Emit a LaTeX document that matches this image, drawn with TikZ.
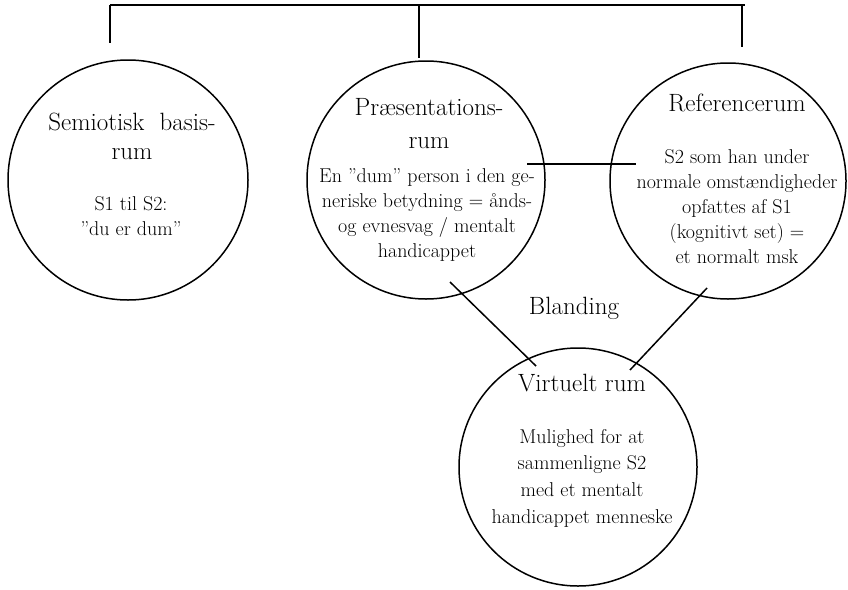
\documentclass[tikz,border=0pt]{standalone}
\usepackage{tikz}
\usetikzlibrary{positioning}

\begin{document}
\begin{tikzpicture}[x=1pt, y=-1pt,
		space/.style={circle, draw, line width=1.5pt, minimum size=238pt, inner sep=0pt},
		head/.style={align=center, font=\fontsize{25}{29}\selectfont},
		body/.style={align=center, font=\fontsize{20}{25}\selectfont},
		link/.style={line width=1.5pt}]
		\useasboundingbox (0,0) rectangle (848,589);
		% the four spaces
		\node[space, minimum size=240pt] (basis) at (128,180) {};
		\node[space] (praes) at (426,180) {};
		\node[space, minimum size=236pt] (ref) at (728,181) {};
		\node[space] (virt) at (578,467) {};
		% texts
		\node[head] (basisT) at (132,136) {Semiotisk\ \ basis-\\rum};
		\node[body] (basisB) at (131,216) {S1 til S2:\\”du er dum”};
		\node[head, font=\fontsize{25}{33}\selectfont] (praesT) at (429,124) {Præsentations-\\rum};
		\node[body] (praesB) at (427,215) {En ”dum” person i den ge-\\neriske betydning = ånds-\\og evnesvag / mentalt\\handicappet};
		\node[head] (refT) at (737,103) {Referencerum};
		\node[body] (refB) at (737,207) {S2 som han under\\normale omstændigheder\\opfattes af S1\\(kognitivt set) =\\et normalt msk};
		\node[head] (virtT) at (582,383) {Virtuelt rum};
		\node[body, font=\fontsize{20}{26.7}\selectfont] (virtB) at (582,478) {Mulighed for at\\sammenligne S2\\med et mentalt\\handicappet menneske};
		\node[head] (blend) at (574,308) {Blanding};
		% connectors
		\coordinate (barL) at (110,5);
		\coordinate (barR) at (745,5);
		\coordinate (tickL) at (110,43);
		\coordinate (tickM) at (419,58);
		\coordinate (tickR) at (742,47);
		\draw[line width=2.6pt] (barL) -- (barR);
		\draw[link] (barL) -- (tickL);
		\draw[link] (tickM |- barL) -- (tickM);
		\draw[link] (tickR |- barL) -- (tickR);
		\coordinate (hA) at (527,164);
		\coordinate (hB) at (636,164);
		\draw[link] (hA) -- (hB);
		\coordinate (lA) at (450,282);
		\coordinate (lB) at (536,366);
		\draw[link] (lA) -- (lB);
		\coordinate (rA) at (707,288);
		\coordinate (rB) at (630,370);
		\draw[link] (rA) -- (rB);
	\end{tikzpicture}
\end{document}
